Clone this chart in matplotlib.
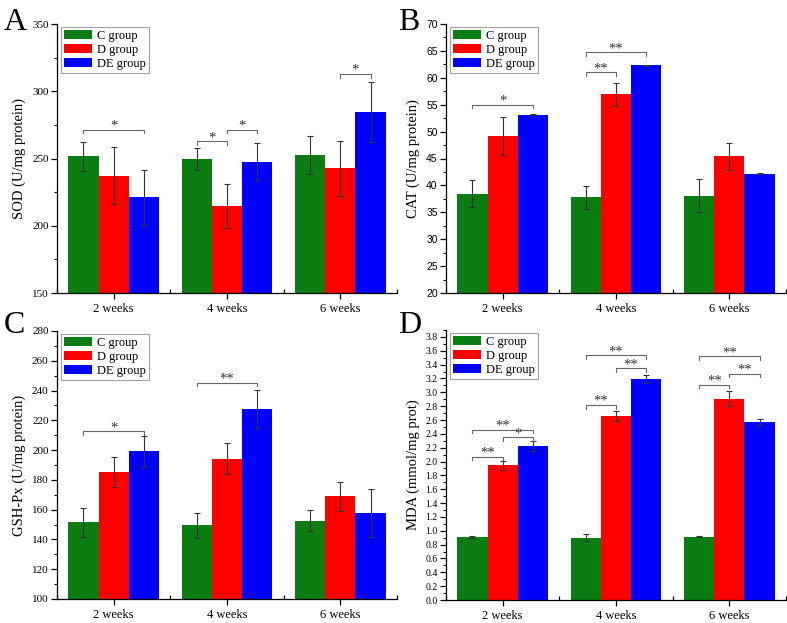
import numpy as np
import matplotlib
matplotlib.use('Agg')
from matplotlib import pyplot as plt
from matplotlib.ticker import MultipleLocator, FixedLocator

plt.rcParams['font.family'] = 'Liberation Serif'

weeks = ['2 weeks', '4 weeks', '6 weeks']
groups = ['C group', 'D group', 'DE group']
colors = ['#0b7d13', '#ff0000', '#0000ff']

# SOD (U/mg protein)
sod_mean = [[251.5, 249.5, 252.5], [237.3, 214.7, 242.7], [221.1, 247.7, 284.3]]
sod_err = [[11.0, 8.0, 14.0], [21.3, 16.5, 20.5], [20.3, 13.5, 22.3]]
sod_sig = [(0, 0, 2, 271.4, '*'), (1, 0, 1, 262.8, '*'), (1, 1, 2, 271.4, '*'),
           (2, 1, 2, 313.0, '*')]

# CAT (U/mg protein)
cat_mean = [[38.45, 37.8, 38.1], [49.2, 56.9, 45.4], [53.17, 62.36, 42.2]]
cat_err = [[2.5, 2.1, 3.05], [3.6, 2.15, 2.55], [0.1, 0.1, 0.05]]
cat_sig = [(0, 0, 2, 55.0, '*'), (1, 0, 1, 61.0, '**'), (1, 0, 2, 64.8, '**')]

# GSH-Px (U/mg protein)
gsh_mean = [[151.4, 149.4, 152.5], [185.2, 194.3, 168.9], [199.3, 227.5, 157.7]]
gsh_err = [[9.7, 8.6, 7.0], [10.2, 10.6, 9.5], [10.4, 12.8, 16.1]]
gsh_sig = [(0, 0, 2, 212.7, '*'), (1, 0, 2, 245.3, '**')]

# MDA (mmol/mg prot)
mda_mean = [[0.911, 0.90, 0.916], [1.943, 2.657, 2.907], [2.223, 3.19, 2.57]]
mda_err = [[0.01, 0.05, 0.01], [0.06, 0.07, 0.11], [0.07, 0.06, 0.04]]
mda_sig = [(0, 0, 1, 2.07, '**'), (0, 1, 2, 2.35, '*'), (0, 0, 2, 2.46, '**'),
           (1, 0, 1, 2.82, '**'), (1, 1, 2, 3.35, '**'), (1, 0, 2, 3.54, '**'),
           (2, 0, 1, 3.11, '**'), (2, 1, 2, 3.27, '**'), (2, 0, 2, 3.52, '**')]

W = 0.8 / 3


def draw_panel(ax, means, errs, sig, ylim, major, ylabel, ytick_font=None, ytick_size=8):
    x = np.arange(1, 4)
    for k in range(3):
        ax.bar(x + (k - 1) * W, means[k], W, color=colors[k], label=groups[k],
               linewidth=0, zorder=2)
        ax.errorbar(x + (k - 1) * W, means[k], yerr=errs[k], fmt='none',
                    ecolor='#333333', elinewidth=0.8, capsize=2.5, capthick=0.8, zorder=3)

    # significance brackets
    span = ylim[1] - ylim[0]
    dy = span * 0.014
    for g, i, j, y, lab in sig:
        x1 = g + 1 + (i - 1) * W
        x2 = g + 1 + (j - 1) * W
        ax.plot([x1, x1, x2, x2], [y - dy, y, y, y - dy], color='#666666', lw=0.8, zorder=4)
        ax.text((x1 + x2) / 2, y - span * 0.012, lab, ha='center', va='bottom',
                fontsize=10.5, color='#333333')

    ax.set_xlim(0.5, 3.5)
    ax.set_ylim(*ylim)
    ax.set_xticks(x)
    ax.set_xticklabels(weeks, fontsize=9)
    ax.xaxis.set_minor_locator(FixedLocator([0.5, 1.5, 2.5, 3.5]))
    ax.tick_params(axis='x', which='major', direction='out', length=4, width=0.9, pad=3)
    ax.tick_params(axis='x', which='minor', direction='in', length=3, width=0.9)
    ax.yaxis.set_major_locator(MultipleLocator(major))
    ax.yaxis.set_minor_locator(MultipleLocator(major / 2))
    ax.tick_params(axis='y', which='major', direction='out', length=4, width=0.9, pad=2)
    ax.tick_params(axis='y', which='minor', direction='out', length=2, width=0.8)
    for t in ax.get_yticklabels():
        t.set_fontsize(ytick_size)
        if ytick_font:
            t.set_family(ytick_font)
    ax.spines['top'].set_visible(False)
    ax.spines['right'].set_visible(False)
    ax.spines['left'].set_linewidth(0.9)
    ax.spines['bottom'].set_linewidth(0.9)
    ax.set_ylabel(ylabel, fontsize=10.5, labelpad=4)

    leg = ax.legend(loc='upper left', bbox_to_anchor=(0.012, 0.99), borderaxespad=0,
                    fontsize=9, frameon=True, fancybox=False, handlelength=2.2,
                    handleheight=0.75, labelspacing=0.15, handletextpad=0.4,
                    borderpad=0.25)
    leg.get_frame().set_edgecolor('#888888')
    leg.get_frame().set_linewidth(0.8)


fig = plt.figure(figsize=(7.87, 6.23), dpi=100)

axA = fig.add_axes([57 / 787, 330 / 623, 340 / 787, 269 / 623])
axB = fig.add_axes([446 / 787, 330 / 623, 340 / 787, 269 / 623])
axC = fig.add_axes([57 / 787, 24 / 623, 340 / 787, 268 / 623])
axD = fig.add_axes([446 / 787, 23 / 623, 340 / 787, 270 / 623])

draw_panel(axA, sod_mean, sod_err, sod_sig, (150, 350), 50, 'SOD (U/mg protein)')
draw_panel(axB, cat_mean, cat_err, cat_sig, (20, 70), 5, 'CAT (U/mg protein)',
           ytick_font='Liberation Sans', ytick_size=7.5)
draw_panel(axC, gsh_mean, gsh_err, gsh_sig, (100, 280), 20, 'GSH-Px (U/mg protein)')
draw_panel(axD, mda_mean, mda_err, mda_sig, (0, 3.9), 0.2, 'MDA (mmol/mg prot)',
           ytick_size=7)
axD.yaxis.set_major_formatter(plt.FormatStrFormatter('%.1f'))
axD.set_yticks(np.arange(0, 3.81, 0.2))
axD.yaxis.set_minor_locator(MultipleLocator(0.1))
for t in axD.get_yticklabels():
    t.set_fontsize(7)

fig.text(4 / 787, 1 - 30 / 623, 'A', fontsize=23)
fig.text(398 / 787, 1 - 30 / 623, 'B', fontsize=23)
fig.text(4 / 787, 1 - 333 / 623, 'C', fontsize=23)
fig.text(398 / 787, 1 - 333 / 623, 'D', fontsize=23)

fig.savefig('out.png', dpi=100)
